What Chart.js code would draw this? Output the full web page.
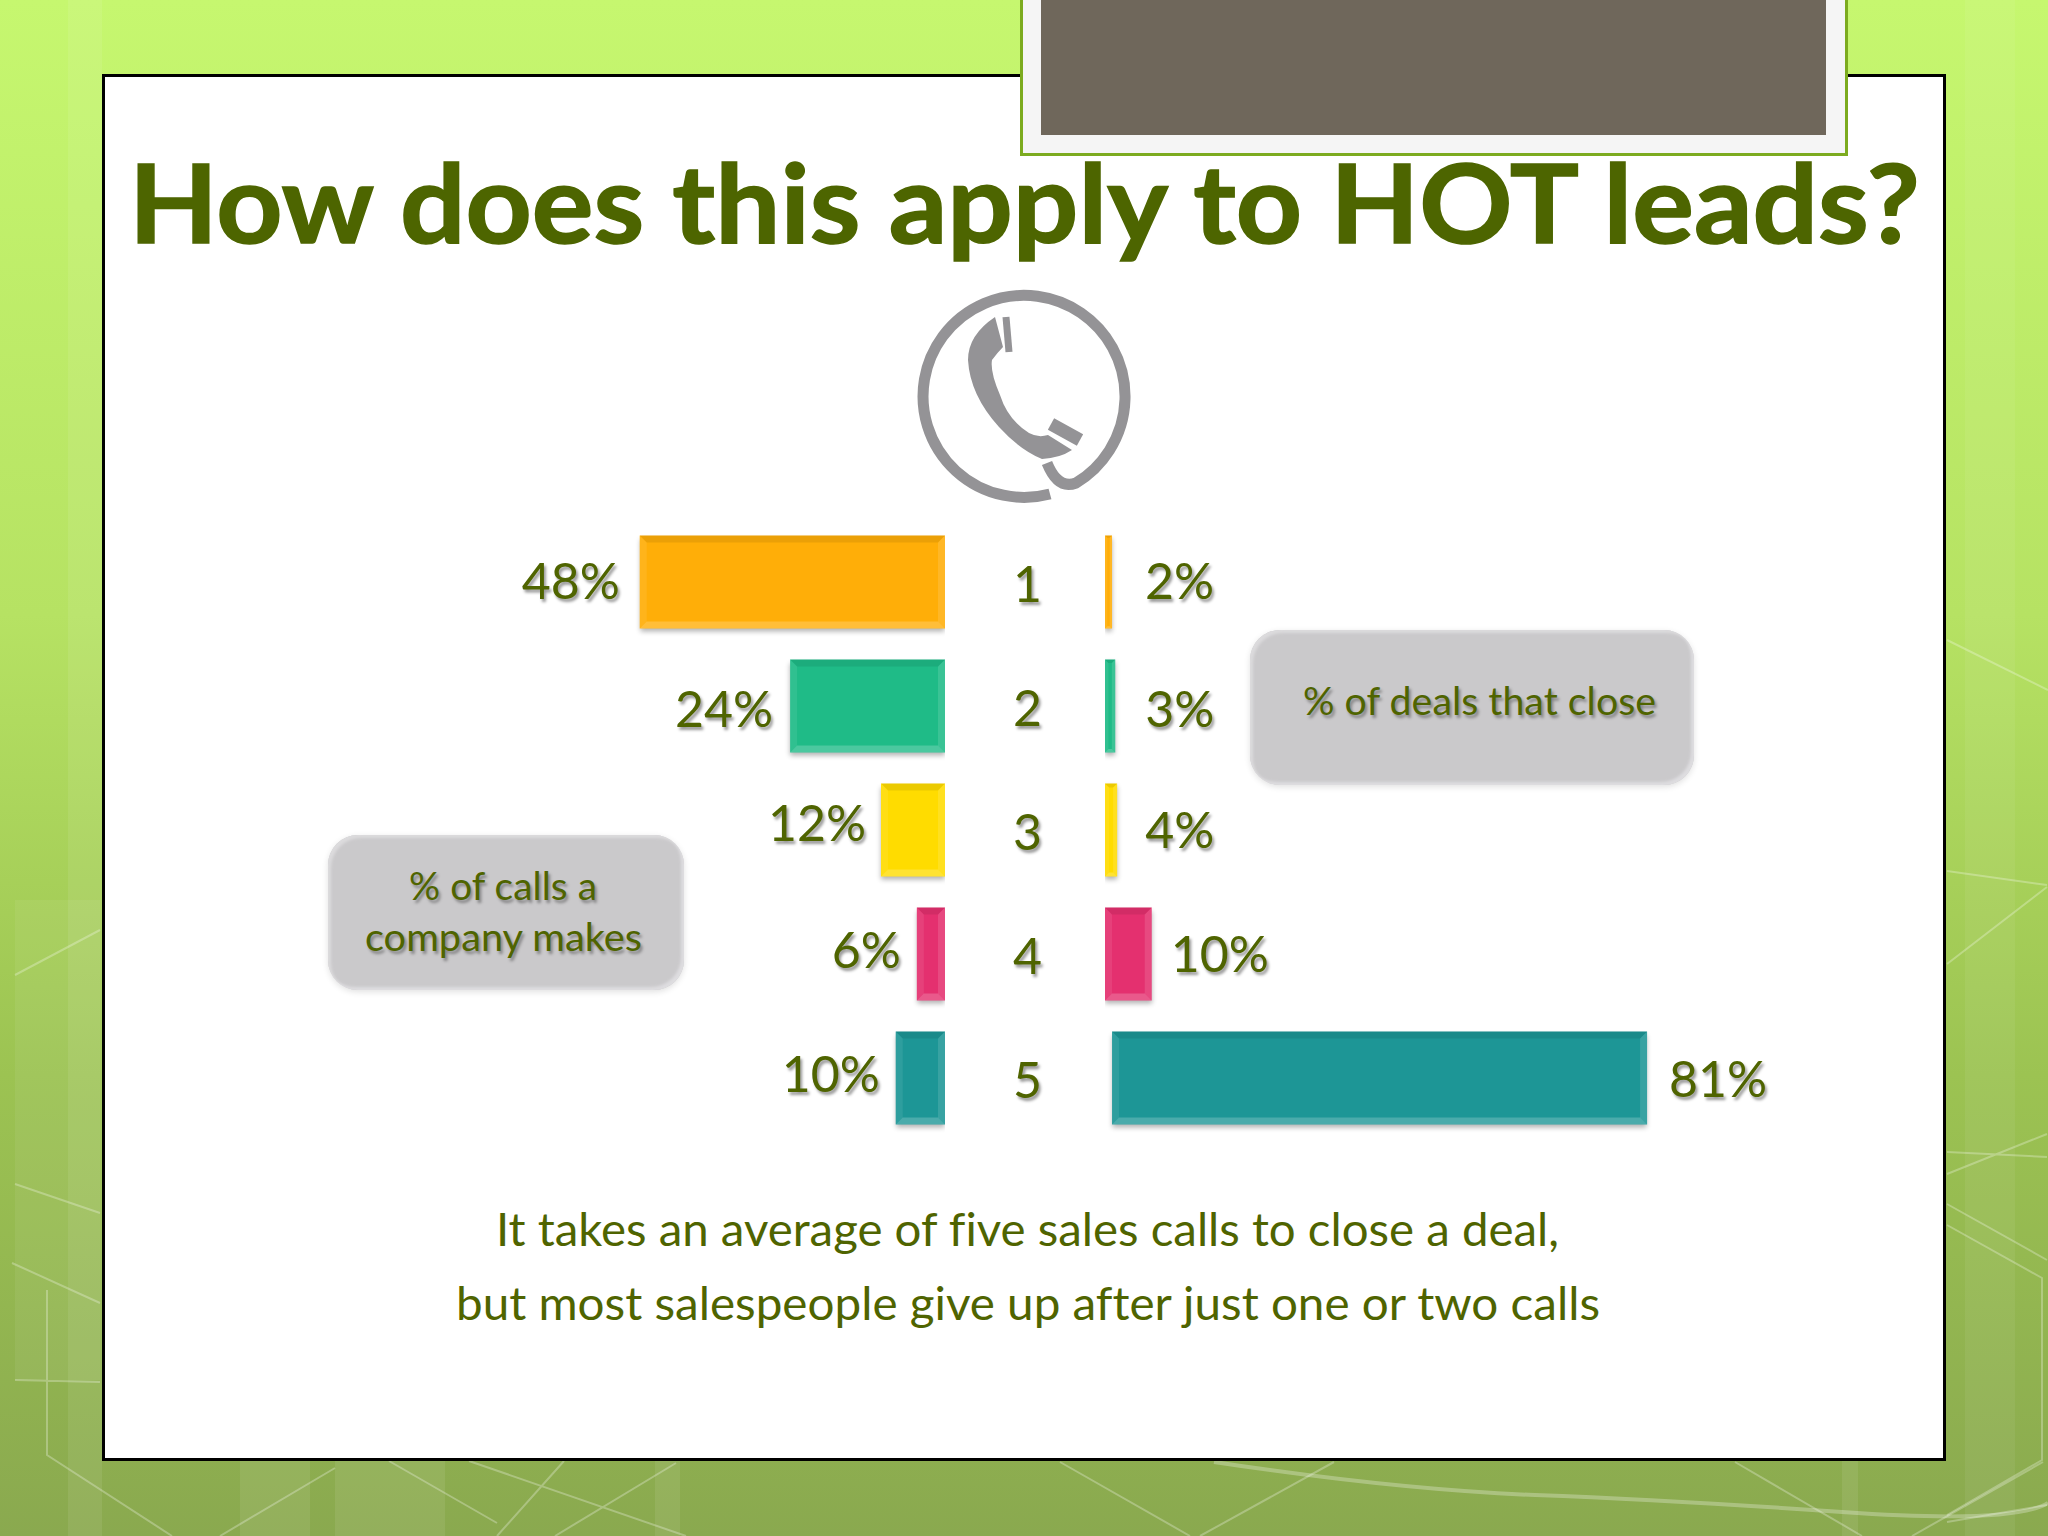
<!DOCTYPE html>
<html>
<head>
<meta charset="utf-8">
<title>How does this apply to HOT leads?</title>
<script src="https://cdn.jsdelivr.net/npm/chart.js@4"></script>
<style>
  html, body { margin: 0; padding: 0; }
  body {
    position: relative; width: 2048px; height: 1536px; overflow: hidden;
    font-family: Lato, sans-serif; color: #4f6400; font-variant-ligatures: none;
    background: linear-gradient(to bottom, #c6f76f 0%, #b6e263 40%, #9cc352 70%, #8aa94f 100%);
  }
  .abs { position: absolute; }
  #panel { left: 102px; top: 74px; width: 1838px; height: 1381px; background: #fff; border: 3px solid #000; }
  #tab { left: 1020px; top: -4px; width: 822px; height: 154px; background: #f5f5f5; border: 3px solid #7cab1f; }
  #tabInner { left: 1041px; top: 0; width: 785px; height: 135px; background: #6f675b; }
  .line { white-space: nowrap; transform-origin: left center; }
  #title { font-weight: 700; font-size: 110px; line-height: 130px; color: #4d6500; -webkit-text-stroke: 1.5px #4d6500; }
  .note { font-size: 47px; line-height: 60px; color: #4f6400; }
  .box {
    background: #cac9cb; border-radius: 30px;
    box-shadow: inset -3px -3px 3px #dedde0, inset 3px 3px 3px #dcdbdd, 0 2px 6px rgba(0,0,0,.12);
  }
  .boxText { font-size: 39px; line-height: 50px; text-shadow: 2px 3px 3px rgba(0,0,0,.35); }
  canvas { position: absolute; }
</style>
</head>
<body>
<svg class="abs" style="left:0;top:0" width="2048" height="1536" fill="none" stroke="#fff" stroke-opacity=".28" stroke-width="2">
  <g stroke="none" fill="#fff" fill-opacity=".08">
    <rect x="68" y="0" width="34" height="1536"/>
    <rect x="15" y="900" width="85" height="480" fill-opacity=".06"/>
    <rect x="240" y="1460" width="70" height="76"/>
    <rect x="335" y="1460" width="110" height="76"/>
    <rect x="655" y="1460" width="25" height="76"/>
    <rect x="1842" y="1460" width="16" height="76"/>
    <rect x="1965" y="0" width="50" height="1536" fill-opacity=".06"/>
  </g>
  <path d="M15 975L100 930M15 1184L100 1213M12 1263L100 1303M15 1380L100 1382M47 1290V1455L172 1536"/>
  <path d="M469 1461L686 1536M389 1461L497 1523M564 1461L497 1536M335 1468L220 1536M676 1463L555 1536"/>
  <path d="M1214 1462Q1400 1490 1535 1495T1842 1512T2048 1503" stroke-width="4"/>
  <path d="M1060 1462L1190 1536M1334 1462L1200 1536M1735 1462L1862 1536M2043 1462L1912 1536"/>
  <path d="M1947 871L2047 885M1947 964L2047 887M1947 1152L2047 1157M1947 1174L2047 1134M1947 1204L2047 1260M1947 1225L2042 1278V1460L1947 1515M1947 1522L2047 1505M1947 640L2048 690"/>
</svg>

<div id="panel" class="abs"></div>
<div id="tab" class="abs"></div>
<div id="tabInner" class="abs"></div>

<div id="title" class="abs line" data-w="1791" style="left:129px;top:135px">How does this apply to HOT leads?</div>

<svg class="abs" style="left:0;top:0" width="2048" height="1536" fill="none" stroke="#949396">
  <path d="M1050 494A101 101 0 1 1 1076 483Q1058 490 1047 463" stroke-width="11"/>
  <path d="M995 317Q968 335 968 360Q970 395 999 427Q1020 450 1042 459Q1060 458 1072 450L1048 435Q1038 438 1029 433Q1008 420 1000 395Q990 372 992 360Q998 352 1003 347Z" fill="#949396" stroke="none"/>
  <path d="M1006 317L1009 352" stroke-width="7"/>
  <path d="M1051 424L1080 440" stroke-width="13"/>
</svg>

<div class="abs box" style="left:328px;top:835px;width:356px;height:155px"></div>
<div class="abs boxText line" data-w="188" style="left:409px;top:860px">% of calls a</div>
<div class="abs boxText line" data-w="277" style="left:365px;top:911px">company makes</div>

<div class="abs box" style="left:1250px;top:630px;width:444px;height:155px"></div>
<div class="abs boxText line" data-w="353" style="left:1303px;top:675px">% of deals that close</div>

<canvas id="callsChart" width="704" height="620" style="left:241px;top:520px"></canvas>
<canvas id="dealsChart" width="864" height="620" style="left:945px;top:520px"></canvas>

<div class="abs note line" data-w="1063" style="left:496px;top:1198px">It takes an average of five sales calls to close a deal,</div>
<div class="abs note line" data-w="1144" style="left:456px;top:1272px">but most salespeople give up after just one or two calls</div>

<script>
const callNumbers = ["1", "2", "3", "4", "5"];
const barColors = ["#ffae08", "#1fbb87", "#ffdc00", "#e4306f", "#1d9696"];

// printed labels
const callsLabels = ["48%", "24%", "12%", "6%", "10%"];
const dealsLabels = ["2%", "3%", "4%", "10%", "81%"];

// the slide's bars are not to scale with their labels, so these are the lengths as drawn
const callsBarLengths = [47.7, 24.2, 10, 4.4, 7.7];
const dealsBarStarts = [0, 0, 0, 0, 1.1];
const dealsBarEnds = [1.1, 1.6, 1.9, 7.3, 84.7];

const textGreen = "#4f6400";
const chartFont = { family: "Lato", size: 50 };

function setTextShadow(ctx) {
  ctx.shadowColor = "rgba(0,0,0,.4)";
  ctx.shadowBlur = 3;
  ctx.shadowOffsetX = 2;
  ctx.shadowOffsetY = 3;
}

// bevelled edges, soft shadow and the % labels next to each bar
const slideBars = {
  id: "slideBars",
  beforeDraw(chart) {
    chart.ctx.save();
    setTextShadow(chart.ctx);
  },
  beforeDatasetsDraw(chart) {
    const ctx = chart.ctx;
    ctx.restore();
    ctx.save();
    ctx.shadowColor = "rgba(0,0,0,.3)";
    ctx.shadowBlur = 5;
    ctx.shadowOffsetY = 3;
  },
  afterDatasetsDraw(chart, args, opts) {
    const ctx = chart.ctx;
    ctx.restore();
    chart.getDatasetMeta(0).data.forEach((bar, i) => {
      const p = bar.getProps(["x", "y", "base", "height"], true);
      const l = Math.min(p.x, p.base), r = Math.max(p.x, p.base);
      const t = p.y - p.height / 2, b = p.y + p.height / 2;
      const e = Math.min(7, (r - l) / 3);
      const strip = (color, pts) => {
        ctx.fillStyle = color;
        ctx.beginPath();
        pts.forEach((q, n) => (n ? ctx.lineTo(q[0], q[1]) : ctx.moveTo(q[0], q[1])));
        ctx.fill();
      };
      strip("rgba(0,0,0,.08)", [[l, t], [r, t], [r - e, t + e], [l + e, t + e]]);
      strip("rgba(255,255,255,.2)", [[l, b], [r, b], [r - e, b - e], [l + e, b - e]]);
      strip("rgba(255,255,255,.08)", [[l, t], [l + e, t + e], [l + e, b - e], [l, b]]);
      strip("rgba(255,255,255,.12)", [[r, t], [r - e, t + e], [r - e, b - e], [r, b]]);

      ctx.save();
      setTextShadow(ctx);
      ctx.fillStyle = textGreen;
      ctx.font = chartFont.size + "px " + chartFont.family;
      ctx.textBaseline = "middle";
      ctx.textAlign = opts.side === "left" ? "right" : "left";
      const gap = opts.gaps[i];
      ctx.fillText(opts.labels[i], opts.side === "left" ? p.x - gap : p.x + gap, p.y + opts.nudge[i]);
      ctx.restore();
    });
  },
};

new Chart(document.getElementById("callsChart"), {
  type: "bar",
  data: {
    labels: callNumbers,
    datasets: [{ data: callsBarLengths, backgroundColor: barColors, barPercentage: 0.75, categoryPercentage: 1 }],
  },
  plugins: [slideBars],
  options: {
    indexAxis: "y",
    responsive: false,
    animation: false,
    layout: { padding: 0 },
    plugins: {
      legend: { display: false },
      tooltip: { enabled: false },
      slideBars: { side: "left", labels: callsLabels, gaps: [20, 17, 15, 16, 16], nudge: [1, 5, -5, -2, -2] },
    },
    scales: {
      x: { display: false, reverse: true, min: 0, max: 110 },
      y: { display: false },
    },
  },
});

new Chart(document.getElementById("dealsChart"), {
  type: "bar",
  data: {
    labels: callNumbers,
    datasets: [{
      data: dealsBarStarts.map((start, i) => [start, dealsBarEnds[i]]),
      backgroundColor: barColors,
      barPercentage: 0.75,
      categoryPercentage: 1,
    }],
  },
  plugins: [slideBars],
  options: {
    indexAxis: "y",
    responsive: false,
    animation: false,
    layout: { padding: 0 },
    plugins: {
      legend: { display: false },
      tooltip: { enabled: false },
      slideBars: { side: "right", labels: dealsLabels, gaps: [33, 30, 28, 19, 22], nudge: [1, 5, 2, 2, 3] },
    },
    scales: {
      x: { display: false, min: 0, max: 110 },
      y: {
        afterFit(scale) {
          scale.width = 160;
          // tick padding would otherwise shrink the plot height too
          scale.paddingTop = 0;
          scale.paddingBottom = 0;
        },
        grid: { display: false, drawTicks: false },
        border: { display: false },
        ticks: { color: textGreen, font: chartFont, padding: 63, labelOffset: 4 },
      },
    },
  },
});

// Lato runs wider than the slide's font, squeeze each text line to the measured width
document.querySelectorAll(".line").forEach((el) => {
  const w = el.getBoundingClientRect().width;
  el.style.transform = "scaleX(" + el.dataset.w / w + ")";
});
</script>
</body>
</html>
